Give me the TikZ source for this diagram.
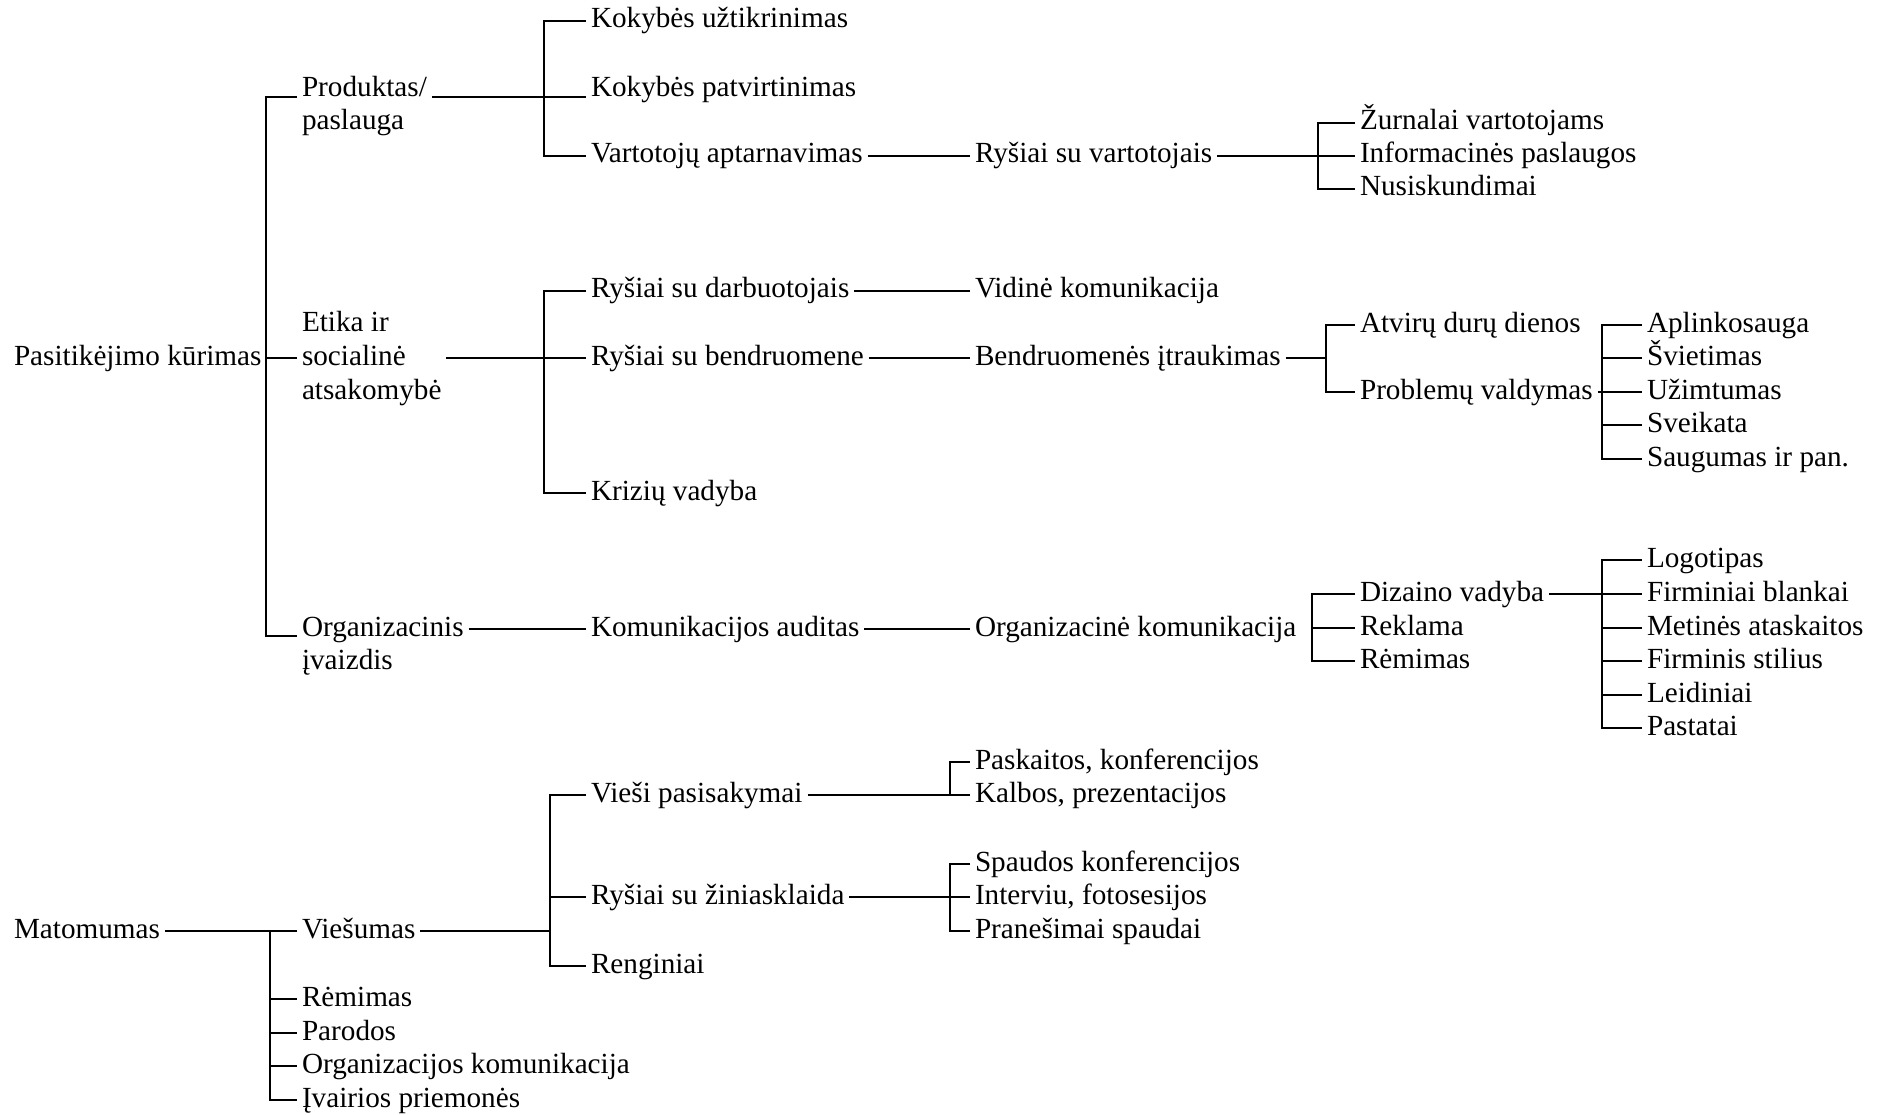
\documentclass[tikz,border=0pt]{standalone}
\usepackage{fontspec}
\setmainfont{Liberation Serif}
\begin{document}
\begin{tikzpicture}[x=1pt,y=-1pt,
  txt/.style={anchor=west, inner xsep=5pt, inner ysep=0pt, outer sep=0pt,
    font=\fontsize{29.2}{33.6}\selectfont, text height=20pt, text depth=6pt},
  conn/.style={line width=2pt}]
\fill[white] (0,0) rectangle (1879,1115);
\path[use as bounding box] (0,0) rectangle (1879,1115);

% bus coordinates
\coordinate (B1) at (266,0);
\coordinate (B2) at (544,0);
\coordinate (Brv) at (1318,0);
\coordinate (Bbi) at (1326,0);
\coordinate (Bpv) at (1602,0);
\coordinate (Bok) at (1312,0);
\coordinate (Bdv) at (1602,0);
\coordinate (Bmat) at (270,0);
\coordinate (Bvie) at (550,0);
\coordinate (Bvp) at (950,0);
\coordinate (Brz) at (950,0);

% ---------- upper tree ----------
\node[txt] (pk) at (9,358) {Pasitikėjimo kūrimas};
\node[txt] (prodA) at (297,90) {Produktas/};
\node[txt] (prodB) at (297,123) {paslauga};
\node[txt] (etA) at (297,324) {Etika ir};
\node[txt] (etB) at (297,358) {socialinė};
\node[txt] (etC) at (297,392) {atsakomybė};
\node[txt] (orgA) at (297,629) {Organizacinis};
\node[txt] (orgB) at (297,662) {įvaizdis};

\node[txt] (ku) at (586,21) {Kokybės užtikrinimas};
\node[txt] (kp) at (586,90) {Kokybės patvirtinimas};
\node[txt] (va) at (586,156) {Vartotojų aptarnavimas};
\node[txt] (rv) at (970,156) {Ryšiai su vartotojais};
\node[txt] (zv) at (1355,123) {Žurnalai vartotojams};
\node[txt] (ip) at (1355,156) {Informacinės paslaugos};
\node[txt] (nu) at (1355,189) {Nusiskundimai};

\node[txt] (rd) at (586,291) {Ryšiai su darbuotojais};
\node[txt] (rb) at (586,358) {Ryšiai su bendruomene};
\node[txt] (kv) at (586,493) {Krizių vadyba};
\node[txt] (vk) at (970,291) {Vidinė komunikacija};
\node[txt] (bi) at (970,358) {Bendruomenės įtraukimas};
\node[txt] (ad) at (1355,325) {Atvirų durų dienos};
\node[txt] (pv) at (1355,392) {Problemų valdymas};
\node[txt] (ap) at (1642,325) {Aplinkosauga};
\node[txt] (sv) at (1642,358) {Švietimas};
\node[txt] (uz) at (1642,392) {Užimtumas};
\node[txt] (sk) at (1642,425) {Sveikata};
\node[txt] (sg) at (1642,459) {Saugumas ir pan.};

\node[txt] (ka) at (586,629) {Komunikacijos auditas};
\node[txt] (ok) at (970,629) {Organizacinė komunikacija};
\node[txt] (dv) at (1355,594) {Dizaino vadyba};
\node[txt] (re) at (1355,628) {Reklama};
\node[txt] (rm) at (1355,661) {Rėmimas};
\node[txt] (lo) at (1642,560) {Logotipas};
\node[txt] (fb) at (1642,594) {Firminiai blankai};
\node[txt] (ma) at (1642,628) {Metinės ataskaitos};
\node[txt] (fs) at (1642,661) {Firminis stilius};
\node[txt] (le) at (1642,695) {Leidiniai};
\node[txt] (pa) at (1642,728) {Pastatai};

% ---------- lower tree ----------
\node[txt] (mat) at (9,931) {Matomumas};
\node[txt] (vie) at (297,931) {Viešumas};
\node[txt] (rm2) at (297,999) {Rėmimas};
\node[txt] (par) at (297,1033) {Parodos};
\node[txt] (ok2) at (297,1066) {Organizacijos komunikacija};
\node[txt] (iv) at (297,1100) {Įvairios priemonės};
\node[txt] (vp) at (586,795) {Vieši pasisakymai};
\node[txt] (rz) at (586,897) {Ryšiai su žiniasklaida};
\node[txt] (ren) at (586,966) {Renginiai};
\node[txt] (pk2) at (970,762) {Paskaitos, konferencijos};
\node[txt] (kp2) at (970,795) {Kalbos, prezentacijos};
\node[txt] (sk2) at (970,864) {Spaudos konferencijos};
\node[txt] (ifs) at (970,897) {Interviu, fotosesijos};
\node[txt] (ps) at (970,931) {Pranešimai spaudai};

% ---------- connectors: upper ----------
\draw[conn] (pk.east) -- (etB.west);
\draw[conn] (prodA.base west) -- (B1 |- prodA.base west) -- (B1 |- orgA.base west) -- (orgA.base west);

\draw[conn] (prodA.base east) -- (kp.base west);
\draw[conn] (ku.west) -- (B2 |- ku.west) -- (B2 |- va.west) -- (va.west);
\draw[conn] (va.east) -- (rv.west);
\draw[conn] (rv.east) -- (ip.west);
\draw[conn] (zv.west) -- (Brv |- zv.west) -- (Brv |- nu.west) -- (nu.west);

\draw[conn] (etC.east |- etB.west) -- (rb.west);
\draw[conn] (rd.west) -- (B2 |- rd.west) -- (B2 |- kv.west) -- (kv.west);
\draw[conn] (rd.east) -- (vk.west);
\draw[conn] (rb.east) -- (bi.west);
\draw[conn] (bi.east) -- (Bbi |- bi.east);
\draw[conn] (ad.west) -- (Bbi |- ad.west) -- (Bbi |- pv.west) -- (pv.west);
\draw[conn] (pv.east) -- (uz.west);
\draw[conn] (ap.west) -- (Bpv |- ap.west) -- (Bpv |- sg.west) -- (sg.west);
\draw[conn] (Bpv |- sv.west) -- (sv.west);
\draw[conn] (Bpv |- sk.west) -- (sk.west);

\draw[conn] (orgA.east) -- (ka.west);
\draw[conn] (ka.east) -- (ok.west);
\draw[conn] (dv.west) -- (Bok |- dv.west) -- (Bok |- rm.west) -- (rm.west);
\draw[conn] (Bok |- re.west) -- (re.west);
\draw[conn] (dv.east) -- (fb.west);
\draw[conn] (lo.west) -- (Bdv |- lo.west) -- (Bdv |- pa.west) -- (pa.west);
\draw[conn] (Bdv |- ma.west) -- (ma.west);
\draw[conn] (Bdv |- fs.west) -- (fs.west);
\draw[conn] (Bdv |- le.west) -- (le.west);

% ---------- connectors: lower ----------
\draw[conn] (mat.east) -- (vie.west);
\draw[conn] (Bmat |- vie.west) -- (Bmat |- iv.west) -- (iv.west);
\draw[conn] (Bmat |- rm2.west) -- (rm2.west);
\draw[conn] (Bmat |- par.west) -- (par.west);
\draw[conn] (Bmat |- ok2.west) -- (ok2.west);
\draw[conn] (vie.east) -- (Bvie |- vie.east);
\draw[conn] (vp.west) -- (Bvie |- vp.west) -- (Bvie |- ren.west) -- (ren.west);
\draw[conn] (Bvie |- rz.west) -- (rz.west);
\draw[conn] (vp.east) -- (kp2.west);
\draw[conn] (pk2.west) -- (Bvp |- pk2.west) -- (Bvp |- kp2.west);
\draw[conn] (rz.east) -- (ifs.west);
\draw[conn] (sk2.west) -- (Brz |- sk2.west) -- (Brz |- ps.west) -- (ps.west);
\end{tikzpicture}
\end{document}
